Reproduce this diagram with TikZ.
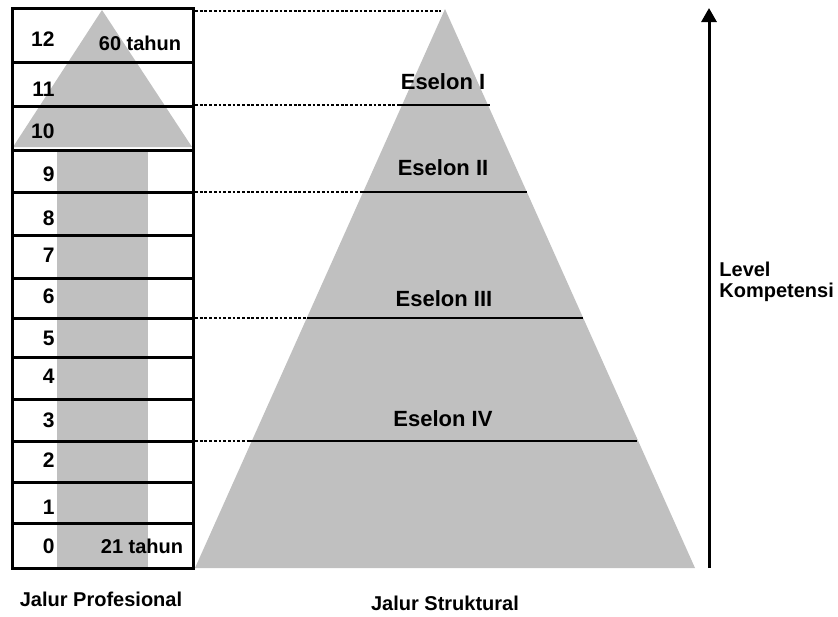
\documentclass[tikz,border=0pt]{standalone}
\usepackage{fontspec}
\setmainfont{Liberation Sans}
\usepackage{xcolor}
\usetikzlibrary{arrows.meta,positioning,calc}
\definecolor{pathgrey}{HTML}{C0C0C0}
\definecolor{ink}{HTML}{000000}
\tikzset{
  lbl/.style={
    font=\fontsize{10}{10.5}\selectfont\bfseries, text=ink,
    inner sep=0pt, align=center
  },
  levelnum/.style={lbl, font=\fontsize{10.5}{11}\selectfont\bfseries, anchor=east},
  eselonlabel/.style={lbl, font=\fontsize{11}{12}\selectfont\bfseries},
  rowline/.style={draw=ink, line width=1.5pt},
  eselonline/.style={draw=ink, line width=1pt},
  dotline/.style={draw=ink, line width=1.3pt, dash pattern=on 1.4pt off 0.95pt},
  levelarrow/.style={
    -{Triangle[length=7pt, width=7.5pt]}, line width=1.5pt, color=ink
  },
}

\begin{document}
\begin{tikzpicture}[x=0.5pt, y=-0.5pt]
\useasboundingbox (0,0) rectangle (838,616);

% Jalur Profesional: grey arrow behind the level column
\fill[pathgrey] (102,10) -- (192,147) -- (13,147) -- cycle;
\fill[pathgrey] (57,150) rectangle (148,568);

% Level column
\foreach \y in {62,106,150,192,235,278,318,357,399,441,482,523}
  \draw[rowline] (12,\y) -- (193,\y);
\draw[rowline] (12,8) rectangle (193,568);
\foreach \n/\y in {12/39,11/89,10/131,9/174,8/218,7/255,6/296,
                   5/338,4/376,3/420,2/460,1/507,0/546}
  \node[levelnum] (lv\n) at (55,\y) {\n};
\node[lbl] (old) at (140,43) {60 tahun};
\node[lbl] (young) at (142,546) {21 tahun};

% Jalur Struktural: pyramid
\coordinate (apex) at (445,9);
\coordinate (baseL) at (195,568);
\coordinate (baseR) at (695,568);
\fill[pathgrey] (apex) -- (baseR) -- (baseL) -- cycle;
\coordinate (coltop) at (195,11);
\draw[dotline] (coltop) -- ($(apex)+(-4,2)$);

% Eselon levels
\foreach \name/\y/\xa/\xb in {e1/105/398/490, e2/192/360/527,
                              e3/318/307/583, e4/441/250/637}{
  \coordinate (\name w) at (\xa,\y);
  \coordinate (\name e) at (\xb,\y);
  \coordinate (\name c) at (195,\y);
  \draw[eselonline] (\name w) -- (\name e);
  \draw[dotline] (\name c) -- (\name w);
}
\node[eselonlabel] (esI) at (443,82) {Eselon I};
\node[eselonlabel] (esII) at (443,168) {Eselon II};
\node[eselonlabel] (esIII) at (444,299) {Eselon III};
\node[eselonlabel] (esIV) at (443,419) {Eselon IV};

% Competence axis
\coordinate (arrbot) at (709,568);
\coordinate (arrtop) at (709,8);
\draw[levelarrow] (arrbot) -- (arrtop);
\node[lbl, align=left, anchor=west] (komp) at (719,282) {Level\\Kompetensi};

% Captions
\node[lbl] (profcap) at (101,599) {Jalur Profesional};
\node[lbl] (strukcap) at (445,603) {Jalur Struktural};

\end{tikzpicture}
\end{document}
